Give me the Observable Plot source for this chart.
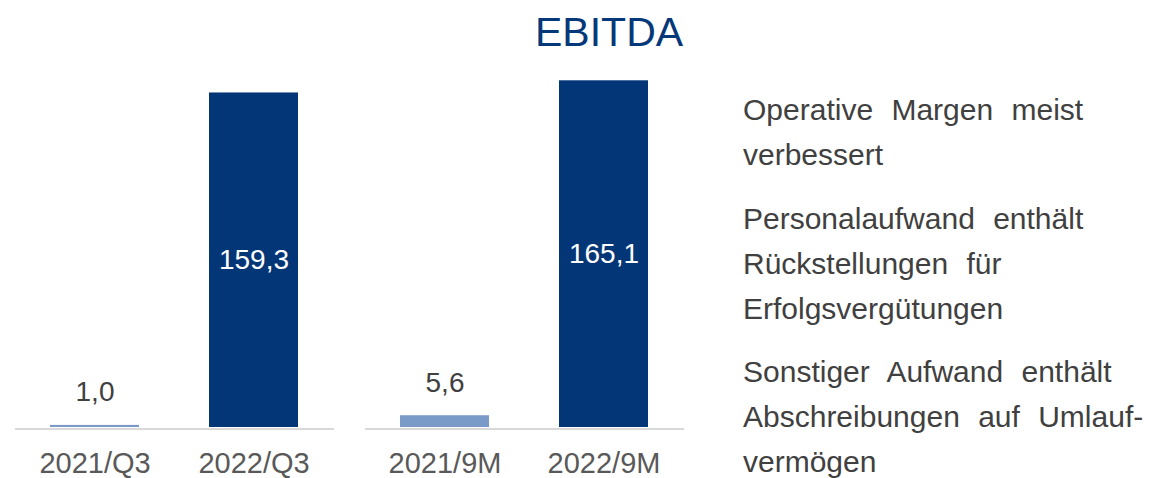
<!DOCTYPE html>
<html>
<head>
<meta charset="utf-8">
<script src="https://cdn.jsdelivr.net/npm/d3@7"></script>
<script src="https://cdn.jsdelivr.net/npm/@observablehq/plot@0.6"></script>
<style>
  html, body { margin: 0; padding: 0; background: #fff; }
  body { width: 1151px; height: 478px; position: relative; overflow: hidden; font-family: "Liberation Sans", Arial, sans-serif; }
  #header { position: relative; height: 48px; z-index: 1; }
  #title { position: absolute; left: 535px; top: 12px; font-size: 41px; line-height: 41px; color: #053879; white-space: nowrap; }
  #notes { position: absolute; left: 743px; top: 87px; font-size: 30px; line-height: 45px; color: #404040; word-spacing: 10px; white-space: nowrap; }
  #notes div { margin-bottom: 18.5px; }
</style>
</head>
<body>
<div id="header"><div id="title"></div></div>
<div id="chart"></div>
<div id="notes"></div>
<script>
const titleText = "EBITDA";
const periods = ["2021/Q3", "2022/Q3", "2021/9M", "2022/9M"];
const groups = ["Q3", "Q3", "9M", "9M"];
const years = ["2021", "2022", "2021", "2022"];
const ebitda = [1.0, 159.3, 5.6, 165.1];
const notes = [
  ["Operative Margen meist", "verbessert"],
  ["Personalaufwand enthält", "Rückstellungen für", "Erfolgsvergütungen"],
  ["Sonstiger Aufwand enthält", "Abschreibungen auf Umlauf-", "vermögen"]
];

const data = periods.map((p, i) => ({period: p, group: groups[i], year: years[i], value: ebitda[i]}));
const fmt = v => d3.format(".1f")(v).replace(".", ",");

document.getElementById("title").textContent = titleText;
const notesEl = document.getElementById("notes");
for (const para of notes) {
  const div = document.createElement("div");
  para.forEach((line, i) => {
    if (i) div.appendChild(document.createElement("br"));
    div.appendChild(document.createTextNode(line));
  });
  notesEl.appendChild(div);
}

const chart = Plot.plot({
  width: 700,
  height: 430,
  marginLeft: 15,
  marginRight: 15,
  marginTop: 22,
  marginBottom: 51,
  style: {fontFamily: "'Liberation Sans', Arial, sans-serif", background: "transparent"},
  fx: {domain: ["Q3", "9M"], paddingInner: 0.0884, paddingOuter: 0, axis: null, label: null},
  x: {domain: ["2021", "2022"], paddingInner: 0.4375, paddingOuter: 0.21875, axis: null},
  y: {domain: [0, 170], axis: null},
  color: {domain: ["2021", "2022"], range: ["#7a9ac8", "#033677"]},
  marks: [
    Plot.ruleY([0], {stroke: "#d9d9d9", strokeWidth: 2, dy: 1.5}),
    Plot.barY(data, {fx: "group", x: "year", y: "value", fill: "year"}),
    Plot.text(data, {
      filter: d => d.year === "2022",
      fx: "group", x: "year", y: d => d.value / 2,
      text: d => fmt(d.value), fill: "white", fontSize: 28, lineAnchor: "middle"
    }),
    Plot.text(data, {
      filter: d => d.year === "2021",
      fx: "group", x: "year", y: "value",
      text: d => fmt(d.value), fill: "#404040", fontSize: 28, lineAnchor: "middle", dy: -33
    }),
    Plot.text(data, {
      fx: "group", x: "year", text: "period",
      frameAnchor: "bottom", lineAnchor: "middle", dy: 36,
      fill: "#595959", fontSize: 29
    })
  ]
});
document.getElementById("chart").appendChild(chart);
</script>
</body>
</html>
